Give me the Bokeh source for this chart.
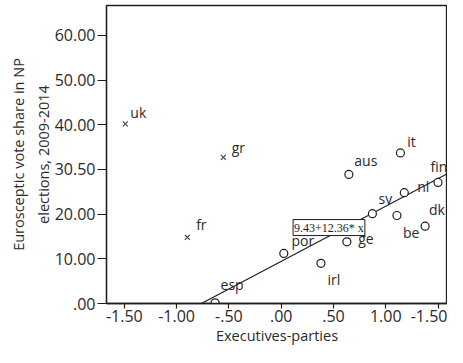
import numpy as np
from bokeh.plotting import figure
from bokeh.models import Range1d, FixedTicker, Label, ColumnDataSource
from bokeh.core.properties import value
from bokeh.embed import file_html
from bokeh.resources import INLINE

# ---- data ----
countries = ["uk", "gr", "fr", "esp", "por", "irl", "ge", "aus", "it", "sv", "nl", "fin", "dk", "be"]
exec_parties = [-1.49, -0.553, -0.897, -0.632, 0.025, 0.38, 0.628, 0.647, 1.14, 0.872, 1.177, 1.499, 1.107, 1.376]
euro_share = [40.2, 32.7, 14.8, 0.16, 11.2, 9.0, 13.8, 28.9, 33.7, 20.1, 24.8, 27.1, 19.7, 17.3]
in_fit = [False, False, False, True, True, True, True, True, True, True, True, True, True, True]

# label placement offsets (pixels)
label_dx = [13, 15, 14, 17, 19, 13, 19, 17, 11, 13, 19, 1, 40, -14]
label_dy = [-11, -10, -13, -18, -13, 16, -3, -14, -11, -15, -6, -16, -6, 6]

intercept = 9.43
slope = 12.36
fit_text = "9.43+12.36* x"

x_ticks = [-1.5, -1.0, -0.5, 0.0, 0.5, 1.0, 1.5]
x_tick_labels = ["-1.50", "-1.00", "-.50", ".00", ".50", "1.00", "-1.50"]
y_ticks = [0.0, 10.0, 20.0, 30.0, 40.0, 50.0, 60.0]
y_tick_labels = [".00", "10.00", "20.00", "30.50", "40.00", "50.00", "60.00"]

INK = "#1e1e1e"
TXT = "#2a2a2a"
FONT = "Open Sans"

x_lo, x_hi = -1.67, 1.59
p = figure(width=447, height=347, output_backend="svg", toolbar_location=None,
           x_range=Range1d(x_lo, x_hi), y_range=Range1d(0, 66.7),
           min_border_left=106, min_border_right=0, min_border_top=5, min_border_bottom=44)
p.background_fill_color = "white"
p.border_fill_color = "white"
p.outline_line_color = INK
p.outline_line_width = 1.3
p.xgrid.visible = False
p.ygrid.visible = False

# axes
p.xaxis.ticker = FixedTicker(ticks=x_ticks)
p.xaxis.major_label_overrides = dict(zip(x_ticks, x_tick_labels))
p.yaxis.ticker = FixedTicker(ticks=y_ticks)
p.yaxis.major_label_overrides = dict(zip(y_ticks, y_tick_labels))
for ax in (p.xaxis, p.yaxis):
    ax.axis_line_color = INK
    ax.axis_line_width = 1.3
    ax.major_tick_line_color = INK
    ax.major_tick_line_width = 1.2
    ax.minor_tick_line_color = None
    ax.major_tick_in = 0
    ax.major_label_text_font = FONT
    ax.major_label_text_font_size = "16px"
    ax.major_label_text_color = TXT
    ax.axis_label_text_font = FONT
    ax.axis_label_text_font_size = "14.5px"
    ax.axis_label_text_font_style = "normal"
    ax.axis_label_text_color = TXT
p.xaxis.major_tick_out = 5
p.xaxis.major_label_standoff = 1
p.xaxis.axis_label = "Executives-parties"
p.xaxis.axis_label_standoff = 1
p.yaxis.major_tick_out = 9
p.yaxis.major_label_standoff = 2
p.yaxis.axis_label = "Eurosceptic vote share in NP\nelections, 2009-2014"
p.yaxis.axis_label_standoff = -1
p.yaxis.axis_label_text_line_height = 1.3

# regression line
x0 = -intercept / slope
fx = np.array([x0, x_hi])
p.line(fx, intercept + slope * fx, line_color=INK, line_width=1.2)

src = ColumnDataSource(dict(x=exec_parties, y=euro_share, name=countries,
                            dx=label_dx, dy=label_dy))
fit_idx = [i for i, f in enumerate(in_fit) if f]
out_idx = [i for i, f in enumerate(in_fit) if not f]
src_in = ColumnDataSource({k: [v[i] for i in fit_idx] for k, v in src.data.items()})
src_out = ColumnDataSource({k: [v[i] for i in out_idx] for k, v in src.data.items()})

p.scatter("x", "y", source=src_in, marker="circle", size=8, fill_color="white",
          line_color=INK, line_width=1.2)
p.scatter("x", "y", source=src_out, marker="x", size=7, line_color="#444444", line_width=1.2)

p.text("x", "y", text="name", source=src, x_offset="dx", y_offset="dy",
       text_align="center", text_baseline="middle", text_font=value(FONT),
       text_font_size="14px", text_color=TXT)

eq = Label(x=0.457, y=17.0, text=fit_text, text_align="center", text_baseline="middle",
           text_font="Liberation Serif", text_font_size="12px", text_color=INK,
           background_fill_color="white", border_line_color=INK, border_line_width=1,
           padding=1)
p.add_layout(eq)

open("out.html", "w").write(file_html(p, INLINE))
